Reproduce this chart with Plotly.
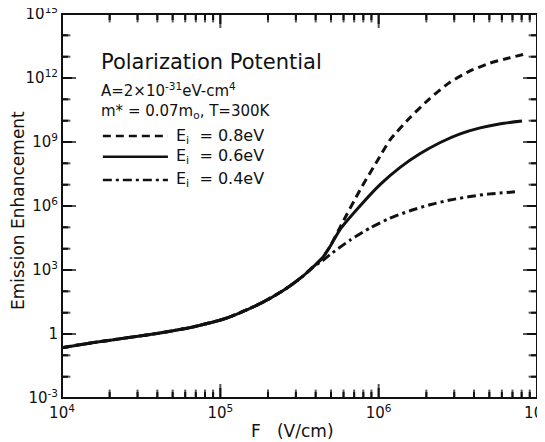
import math
import plotly.graph_objects as go

# ---- data (F in V/cm, emission enhancement) ----
F_common = [1.0e4, 1.585e4, 2.57e4, 4.16e4, 6.71e4, 1.10e5, 1.78e5, 2.51e5, 3.31e5, 3.85e5]
E_common = [0.229, 0.398, 0.661, 1.12, 2.14, 5.62, 26.3, 112, 501, 1380]

F_04 = [4.39e5, 4.93e5, 6.59e5, 8.81e5, 1.17e6, 1.58e6, 2.11e6, 2.82e6, 3.78e6, 5.05e6, 7.26e6]
E_04 = [2630, 5250, 2.51e4, 9.3e4, 2.63e5, 6.0e5, 1.15e6, 1.9e6, 2.8e6, 3.7e6, 4.6e6]

F_06 = [4.39e5, 4.93e5, 5.70e5, 7.62e5, 1.02e6, 1.36e6, 1.82e6, 2.45e6, 3.24e6, 4.37e6, 5.89e6, 8.04e6]
E_06 = [3550, 1.26e4, 7.9e4, 1.0e6, 1.0e7, 6.3e7, 2.8e8, 9.5e8, 2.34e9, 4.57e9, 7.24e9, 9.55e9]

F_08 = [4.39e5, 4.93e5, 5.70e5, 7.62e5, 9.77e5, 1.18e6, 1.58e6, 2.11e6, 2.82e6, 3.78e6, 5.05e6, 6.75e6, 8.17e6]
E_08 = [3550, 1.26e4, 1.0e5, 5.62e6, 1.26e8, 1.26e9, 1.41e10, 1.12e11, 6.3e11, 2.14e12, 5.0e12, 8.9e12, 1.26e13]

series_names = ["E<sub>i</sub>  = 0.8eV", "E<sub>i</sub>  = 0.6eV", "E<sub>i</sub>  = 0.4eV"]
series_dash = ["8px,5px", "solid", "9px,4px,3px,4px"]
series_data = [(F_08, E_08), (F_06, E_06), (F_04, E_04)]

y_tickvals = [1e-3, 1, 1e3, 1e6, 1e9, 1e12, 1e15]
y_ticktext = ["10<sup>-3</sup>", "1", "10<sup>3</sup>", "10<sup>6</sup>",
              "10<sup>9</sup>", "10<sup>12</sup>", "10<sup>15</sup>"]
x_tickvals = [1e4, 1e5, 1e6, 1e7]
x_ticktext = ["10<sup>4</sup>", "10<sup>5</sup>", "10<sup>6</sup>", "10<sup>7</sup>"]
x_minor = [d * 10 ** p for p in (4, 5, 6) for d in range(2, 10)]
y_minor = [10.0 ** p for p in range(-3, 16) if p % 3 != 0]

header_lines = ["Polarization Potential",
                "A=2×10<sup>-31</sup>eV-cm<sup>4</sup>",
                "m* = 0.07m<sub>o</sub>, T=300K"]

FONT = "DejaVu Sans"
INK = "#111111"

# figure geometry (the page body adds an 8px offset, so the figure is sized to fit 545x442)
FIG_W, FIG_H = 537, 434
M_L, M_R, M_T, M_B = 54, 8, 6, 44
X_RANGE, Y_RANGE = [4, 7], [-3, 15]
PLOT_W = FIG_W - M_L - M_R
PLOT_H = FIG_H - M_T - M_B
MAJOR_PX, MINOR_PX = 10, 6

fig = go.Figure()
for idx in (0, 2, 1):  # solid drawn last so the shared trunk looks solid
    fx, ey = series_data[idx]
    fig.add_trace(go.Scatter(
        x=F_common + fx, y=E_common + ey, mode="lines",
        line=dict(color=INK, width=3, dash=series_dash[idx], shape="spline", smoothing=0.6),
        name=series_names[idx], showlegend=False, hoverinfo="skip"))

# inward tick marks as clipped line markers sitting on the four plot edges
x_lo, x_hi = x_tickvals[0], x_tickvals[-1]
y_lo, y_hi = y_tickvals[0], y_tickvals[-1]
mx, my, msym, msize = [], [], [], []
for vals, px in ((x_tickvals[1:-1], MAJOR_PX), (x_minor, MINOR_PX)):
    for v in vals:
        mx += [v, v]
        my += [y_lo, y_hi]
        msym += ["line-ns", "line-ns"]
        msize += [2 * px, 2 * px]
for vals, px in ((y_tickvals[1:-1], MAJOR_PX), (y_minor, MINOR_PX)):
    for v in vals:
        mx += [x_lo, x_hi]
        my += [v, v]
        msym += ["line-ew", "line-ew"]
        msize += [2 * px, 2 * px]
fig.add_trace(go.Scatter(x=mx, y=my, mode="markers", cliponaxis=True,
                         marker=dict(symbol=msym, size=msize, color=INK,
                                     line=dict(color=INK, width=2)),
                         showlegend=False, hoverinfo="skip"))

base = dict(type="log", tickmode="array", ticks="", showline=False, showgrid=False,
            zeroline=False, automargin=False, ticklabeloverflow="allow",
            tickfont=dict(family=FONT, size=15, color=INK))
fig.update_layout(
    xaxis=dict(range=X_RANGE, tickvals=x_tickvals, ticktext=x_ticktext, ticklabelstandoff=4, **base),
    yaxis=dict(range=Y_RANGE, tickvals=y_tickvals, ticktext=y_ticktext, ticklabelstandoff=3, **base),
)


def axis_frac(v, rng):
    return (math.log10(v) - rng[0]) / (rng[1] - rng[0])


# the same inward ticks as one path in paper units (coincides with the markers)
segs = []
for vals, px in ((x_tickvals[1:-1], MAJOR_PX), (x_minor, MINOR_PX)):
    h = px / PLOT_H
    for v in vals:
        f = axis_frac(v, X_RANGE)
        segs.append(f"M{f:.5f},0 L{f:.5f},{h:.5f}")
        segs.append(f"M{f:.5f},1 L{f:.5f},{1 - h:.5f}")
for vals, px in ((y_tickvals[1:-1], MAJOR_PX), (y_minor, MINOR_PX)):
    w = px / PLOT_W
    for v in vals:
        f = axis_frac(v, Y_RANGE)
        segs.append(f"M0,{f:.5f} L{w:.5f},{f:.5f}")
        segs.append(f"M1,{f:.5f} L{1 - w:.5f},{f:.5f}")
fig.add_shape(type="path", xref="paper", yref="paper", path=" ".join(segs),
              line=dict(color=INK, width=2), layer="above")

# frame
fig.add_shape(type="rect", xref="paper", yref="paper", x0=0, x1=1, y0=0, y1=1,
              line=dict(color=INK, width=2), layer="above")

# axis titles
fig.add_annotation(text="F&nbsp;&nbsp;&nbsp;(V/cm)", x=0.486, y=-0.086, xref="paper", yref="paper",
                   xanchor="center", yanchor="middle", showarrow=False,
                   font=dict(family=FONT, size=17, color=INK))
fig.add_annotation(text="Emission Enhancement", x=-0.0926, y=0.487, xref="paper", yref="paper",
                   xanchor="center", yanchor="middle", showarrow=False, textangle=-90,
                   font=dict(family=FONT, size=17, color=INK))

# header text
header_y = [0.875, 0.802, 0.745]
header_size = [21, 15, 15]
for txt, yy, sz in zip(header_lines, header_y, header_size):
    fig.add_annotation(text=txt, x=0.078, y=yy, xref="paper", yref="paper",
                       xanchor="left", yanchor="middle", showarrow=False,
                       font=dict(family=FONT, size=sz, color=INK))

# legend rows (sample line + label)
legend_y = [0.682, 0.628, 0.568]
for i in range(3):
    fig.add_shape(type="line", xref="paper", yref="paper", x0=0.086, x1=0.223,
                  y0=legend_y[i], y1=legend_y[i],
                  line=dict(color=INK, width=2.5, dash=series_dash[i]))
    fig.add_annotation(text=series_names[i], x=0.236, y=legend_y[i], xref="paper", yref="paper",
                       xanchor="left", yanchor="middle", showarrow=False,
                       font=dict(family=FONT, size=16, color=INK))

fig.update_layout(width=FIG_W, height=FIG_H, margin=dict(l=M_L, r=M_R, t=M_T, b=M_B),
                  paper_bgcolor="white", plot_bgcolor="white", showlegend=False)

fig.write_html("out.html")
